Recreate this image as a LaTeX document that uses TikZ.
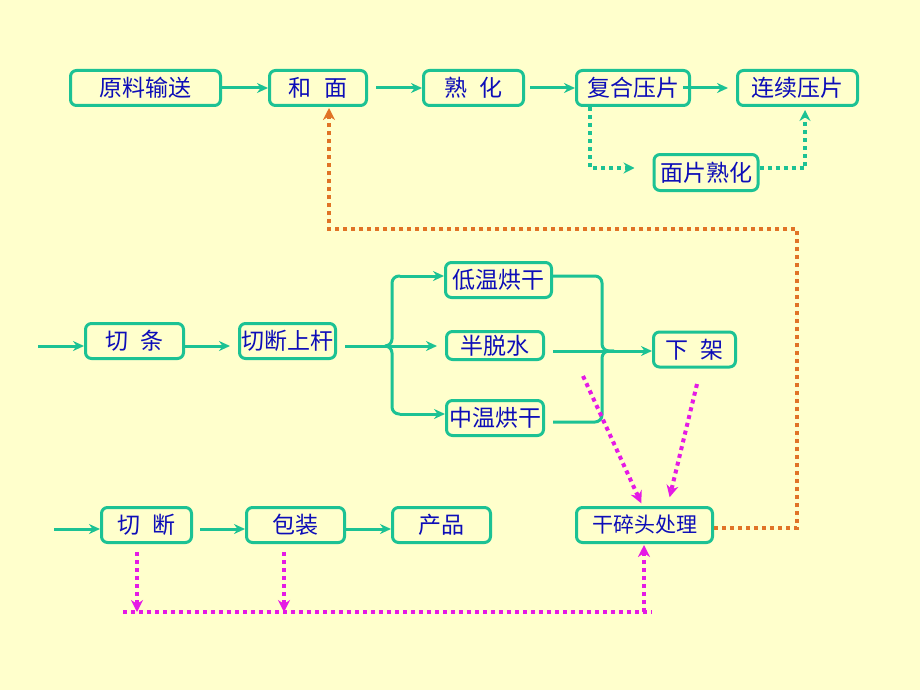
\documentclass[tikz,border=0pt]{standalone}
\usepackage{fontspec}
\newfontfamily\cjk{Noto Sans CJK SC}
\usetikzlibrary{arrows.meta}
\definecolor{paleyellow}{rgb}{1.0, 1.0, 0.8}
\definecolor{boxgreen}{rgb}{0.11, 0.76, 0.58}
\definecolor{inkblue}{rgb}{0.05, 0.05, 0.72}
\definecolor{scrapmagenta}{rgb}{0.9, 0.1, 0.9}
\definecolor{returnorange}{rgb}{0.88, 0.45, 0.15}

\tikzset{
	stepbox/.style={draw=boxgreen, line width=3pt, rounded corners=6pt, text=inkblue,
		font=\cjk\fontsize{23}{25}\selectfont, inner sep=0pt, minimum height=35pt},
	link/.style={boxgreen, line width=3pt},
	flow/.style={link, -{Stealth[length=11pt, width=10pt]}},
	flowdot/.style={boxgreen, line width=4pt, dash pattern=on 4pt off 4pt, -{Stealth[length=11pt, width=11pt]}},
	scrap/.style={scrapmagenta, line width=4pt, dash pattern=on 4pt off 4pt, -{Stealth[length=12pt, width=12pt]}},
	scrapline/.style={scrapmagenta, line width=4pt, dash pattern=on 4pt off 4pt},
	back/.style={returnorange, line width=4pt, dash pattern=on 4pt off 4pt, -{Stealth[length=12pt, width=12pt]}}
}

\begin{document}
\begin{tikzpicture}[x=1pt, y=-1pt]
	\def\gap{\hspace{0.55em}}
	\fill[paleyellow] (0,0) rectangle (920,690);
	\useasboundingbox (0,0) rectangle (920,690);

	% top row
	\node[stepbox, minimum width=150pt] (yuanliao) at (145.5,88) {原料输送};
	\node[stepbox, minimum width=97pt] (hemian) at (318,88) {和\gap 面};
	\node[stepbox, minimum width=100pt] (shuhua) at (473.5,88) {熟\gap 化};
	\node[stepbox, minimum width=113pt] (fuhe) at (633,88) {复合压片};
	\node[stepbox, minimum width=120pt] (lianxu) at (797.5,88) {连续压片};
	\node[stepbox, minimum width=104pt, minimum height=36pt] (mianpian) at (706,172.5) {面片熟化};

	\draw[flow] (yuanliao) -- (hemian);
	\draw[flow, shorten <=8pt] (hemian) -- (shuhua);
	\draw[flow, shorten <=5pt] (shuhua) -- (fuhe);
	\draw[flow, shorten <=-8pt, shorten >=8pt] (fuhe) -- (lianxu);

	% side branch
	\draw[flowdot] ([xshift=-43pt]fuhe.south) |- ([xshift=-18pt, yshift=4.5pt]mianpian.west);
	\draw[flowdot, shorten >=3pt] ([yshift=4.5pt]mianpian.east) -| ([xshift=7.5pt]lianxu.south);

	% middle row
	\node[stepbox, minimum width=98pt] (qietiao) at (134.5,341) {切\gap 条};
	\node[stepbox, minimum width=96pt] (shanggan) at (287.5,341) {切断上杆};
	\node[stepbox, minimum width=106pt] (diwen) at (498.5,280) {低温烘干};
	\node[stepbox, minimum width=97pt, minimum height=28pt] (bantuo) at (495,345.5) {半脱水};
	\node[stepbox, minimum width=97pt] (zhongwen) at (495,418) {中温烘干};
	\node[stepbox, minimum width=82pt] (xiajia) at (694.5,349.5) {下\gap 架};

	\coordinate (in2) at (38,346);
	\coordinate (bl) at (385,346);
	\coordinate (bltop) at (400,276);
	\coordinate (blbot) at (400,414);
	\coordinate (br) at (614,351);
	\coordinate (brbot) at (553,422);

	\draw[flow] (in2) -- (in2 -| qietiao.west);
	\draw[flow, shorten >=8pt] (qietiao.east |- in2) -- (in2 -| shanggan.west);
	\draw[link, shorten <=8pt] (shanggan.east |- bl) -- (bl);

	% left brace
	\draw[link, rounded corners=7pt] (bltop) -- (392,276) -- (392,346) -- (bl);
	\draw[link, rounded corners=7pt] (bl) -- (392,346) -- (392,414) -- (blbot);
	\draw[flow] (bltop) -- (bltop -| diwen.west);
	\draw[flow, shorten >=8pt] (bl) -- (bl -| bantuo.west);
	\draw[flow] (blbot) -- (blbot -| zhongwen.west);

	% right brace
	\draw[link, rounded corners=7pt] (diwen.east |- bltop) -- (602,276) -- (602,351) -- (br);
	\draw[link, rounded corners=7pt] (br) -- (602,351) -- (602,422) -- (brbot);
	\draw[flow, shorten <=8pt] (bantuo.east |- br) -- (br -| xiajia.west);

	% bottom row
	\node[stepbox, minimum width=90pt] (qieduan) at (146.5,525) {切\gap 断};
	\node[stepbox, minimum width=98pt] (baozhuang) at (295.5,525) {包装};
	\node[stepbox, minimum width=98pt] (chanpin) at (441.5,525) {产品};
	\node[stepbox, minimum width=136pt, font=\cjk\fontsize{21}{23}\selectfont] (suitou) at (644.5,525) {干碎头处理};

	\coordinate (in3) at (54,529);
	\draw[flow] (in3) -- (in3 -| qieduan.west);
	\draw[flow, shorten <=7pt] (qieduan.east |- in3) -- (in3 -| baozhuang.west);
	\draw[flow] (baozhuang.east |- in3) -- (in3 -| chanpin.west);

	% scraps
	\coordinate (scrapA) at (583,376);
	\coordinate (scrapB) at (697,384);
	\coordinate (railL) at (123,612);
	\coordinate (railR) at (652,612);
	\coordinate (dropA) at (137,612);
	\coordinate (dropB) at (284,612);
	\coordinate (riseC) at (644,612);

	\draw[scrap, shorten >=3pt] (scrapA) -- ([xshift=-2pt]suitou.north);
	\draw[scrap, shorten >=9pt] (scrapB) -- ([xshift=23pt]suitou.north);
	\draw[scrapline] (railL) -- (railR);
	\draw[scrap, shorten <=8pt] (dropA |- qieduan.south) -- (dropA);
	\draw[scrap, shorten <=8pt] (dropB |- baozhuang.south) -- (dropB);
	\draw[scrap, shorten >=1pt] (riseC) -- (riseC |- suitou.south);

	% return to mixing
	\coordinate (backtop) at (797,229);
	\draw[back, shorten >=1pt] ([yshift=-3pt]suitou.east) -| (backtop) -| ([xshift=11pt]hemian.south);
\end{tikzpicture}
\end{document}
